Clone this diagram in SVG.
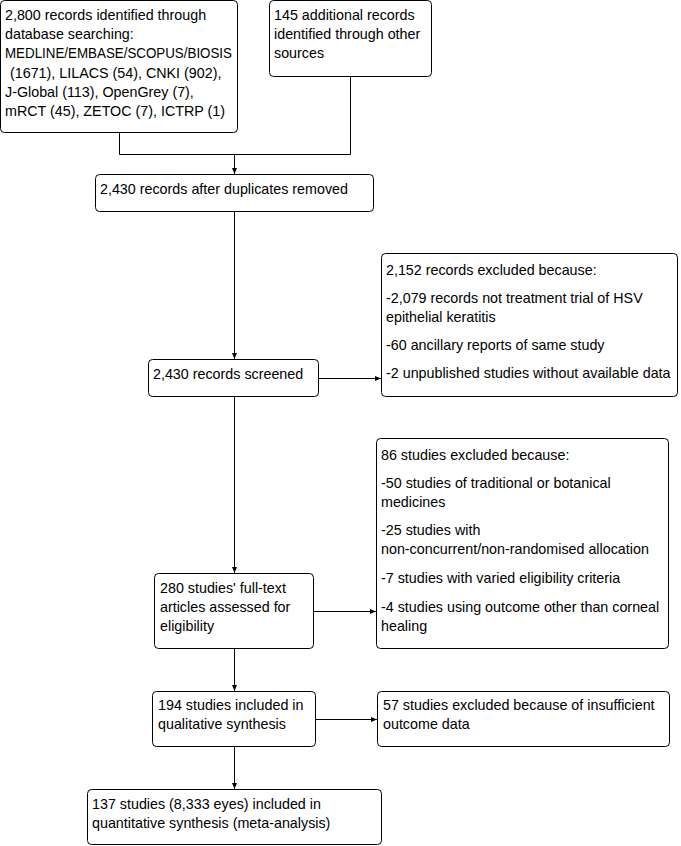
<svg xmlns="http://www.w3.org/2000/svg" width="681" height="846" viewBox="0 0 681 846">
<style>
.box{fill:#fff;stroke:#000;stroke-width:1}
.t{font-family:"Liberation Sans",Arial,sans-serif;font-size:14.3px;fill:#000}
.c{fill:none;stroke:#000;stroke-width:1}
</style>
<defs>
<marker id="ah" markerUnits="userSpaceOnUse" markerWidth="6" markerHeight="6" viewBox="0 0 6 6" refX="6" refY="3" orient="auto">
<path d="M0,0.5 L6,3 L0,5.5 z" fill="#000"/>
</marker>
</defs>
<rect width="681" height="846" fill="#fff"/>
<g id="connectors">
<path class="c" d="M119.5,132.5 V154.5 H350.5 V76.5"/>
<path class="c" d="M234.5,154.5 V174" marker-end="url(#ah)"/>
<path class="c" d="M234.5,212 V359" marker-end="url(#ah)"/>
<path class="c" d="M319,378.5 H381" marker-end="url(#ah)"/>
<path class="c" d="M234.5,397 V573" marker-end="url(#ah)"/>
<path class="c" d="M314,611.5 H376" marker-end="url(#ah)"/>
<path class="c" d="M234.5,649 V691" marker-end="url(#ah)"/>
<path class="c" d="M316,719.5 H377" marker-end="url(#ah)"/>
<path class="c" d="M234.5,747 V789" marker-end="url(#ah)"/>
</g>
<g id="n1">
<rect class="box" x="0.5" y="0.5" width="237" height="132" rx="4"/>
<text class="t" x="5" y="20">2,800 records identified through</text>
<text class="t" x="5" y="39">database searching:</text>
<text class="t" x="5" y="58" textLength="227" lengthAdjust="spacingAndGlyphs">MEDLINE/EMBASE/SCOPUS/BIOSIS</text>
<text class="t" x="10" y="78">(1671), LILACS (54), CNKI (902),</text>
<text class="t" x="5" y="97">J-Global (113), OpenGrey (7),</text>
<text class="t" x="5" y="116">mRCT (45), ZETOC (7), ICTRP (1)</text>
</g>
<g id="n2">
<rect class="box" x="269.5" y="0.5" width="162" height="76" rx="4"/>
<text class="t" x="274" y="20">145 additional records</text>
<text class="t" x="274" y="39">identified through other</text>
<text class="t" x="274" y="58">sources</text>
</g>
<g id="n3">
<rect class="box" x="95.5" y="174.5" width="278" height="37" rx="4"/>
<text class="t" x="100" y="194">2,430 records after duplicates removed</text>
</g>
<g id="n4">
<rect class="box" x="148.5" y="359.5" width="170" height="37" rx="4"/>
<text class="t" x="153" y="379">2,430 records screened</text>
</g>
<g id="n5">
<rect class="box" x="381.5" y="253.5" width="296" height="143" rx="4"/>
<text class="t" x="386" y="275">2,152 records excluded because:</text>
<text class="t" x="386" y="303">-2,079 records not treatment trial of HSV</text>
<text class="t" x="386" y="322">epithelial keratitis</text>
<text class="t" x="386" y="350">-60 ancillary reports of same study</text>
<text class="t" x="386" y="378">-2 unpublished studies without available data</text>
</g>
<g id="n6">
<rect class="box" x="154.5" y="573.5" width="159" height="75" rx="4"/>
<text class="t" x="160" y="593">280 studies' full-text</text>
<text class="t" x="160" y="612">articles assessed for</text>
<text class="t" x="160" y="631">eligibility</text>
</g>
<g id="n7">
<rect class="box" x="376.5" y="438.5" width="292" height="210" rx="4"/>
<text class="t" x="381" y="460">86 studies excluded because:</text>
<text class="t" x="381" y="488">-50 studies of traditional or botanical</text>
<text class="t" x="381" y="507">medicines</text>
<text class="t" x="381" y="535">-25 studies with</text>
<text class="t" x="381" y="554">non-concurrent/non-randomised allocation</text>
<text class="t" x="381" y="583">-7 studies with varied eligibility criteria</text>
<text class="t" x="381" y="612">-4 studies using outcome other than corneal</text>
<text class="t" x="381" y="631">healing</text>
</g>
<g id="n8">
<rect class="box" x="152.5" y="691.5" width="163" height="55" rx="4"/>
<text class="t" x="158" y="710">194 studies included in</text>
<text class="t" x="158" y="729">qualitative synthesis</text>
</g>
<g id="n9">
<rect class="box" x="377.5" y="691.5" width="292" height="55" rx="4"/>
<text class="t" x="383" y="710">57 studies excluded because of insufficient</text>
<text class="t" x="383" y="729">outcome data</text>
</g>
<g id="n10">
<rect class="box" x="87.5" y="789.5" width="294" height="55" rx="4"/>
<text class="t" x="92" y="809">137 studies (8,333 eyes) included in</text>
<text class="t" x="92" y="828">quantitative synthesis (meta-analysis)</text>
</g>
</svg>
